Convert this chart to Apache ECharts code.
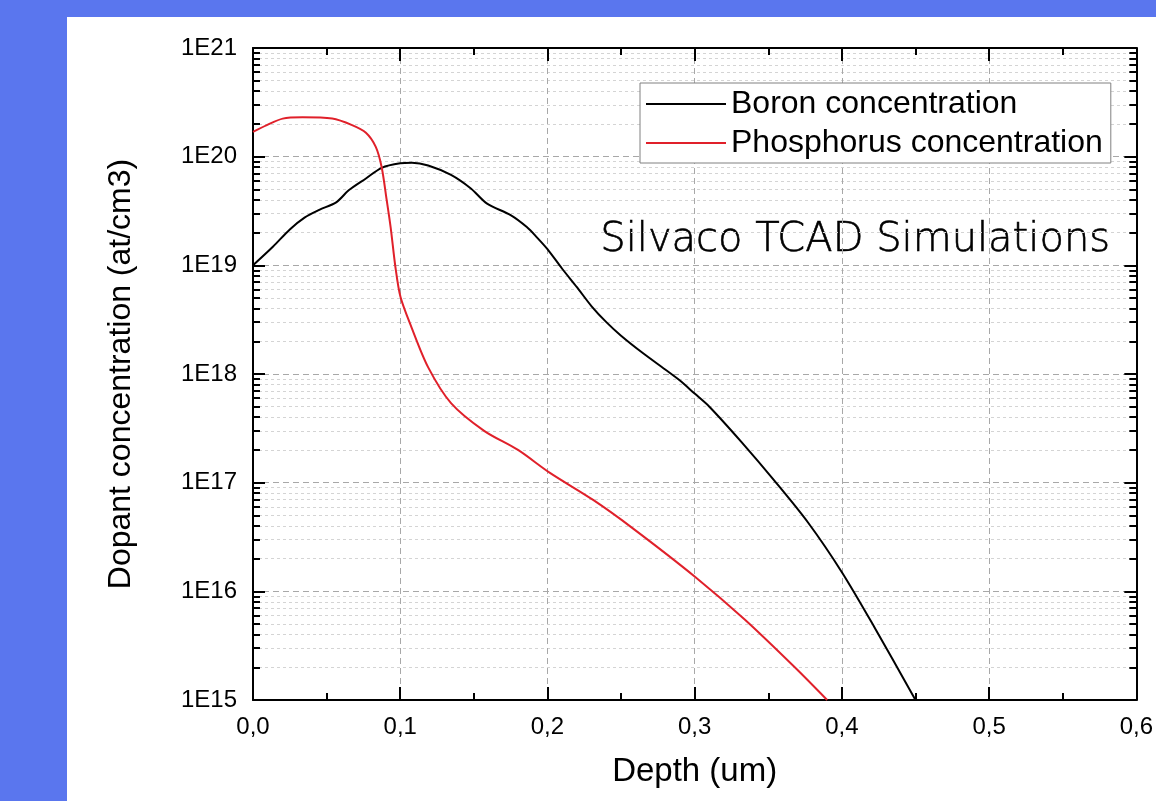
<!DOCTYPE html>
<html><head><meta charset="utf-8">
<script src="https://cdn.jsdelivr.net/npm/echarts@6/dist/echarts.min.js"></script>
<style>
html,body{margin:0;padding:0;background:#5a76ee;width:1156px;height:801px;overflow:hidden}
#c{position:absolute;left:67px;top:17px;width:1089px;height:784px;background:#fff}
</style></head><body><div id="c"></div>
<script>
const xTickLabels = ['0,0','0,1','0,2','0,3','0,4','0,5','0,6'];
const yTickLabels = ['1E15','1E16','1E17','1E18','1E19','1E20','1E21'];

const boronDepth = [0,0.0135,0.025,0.035,0.045,0.0565,0.065,0.0767,0.0874,0.1,0.108,0.119,0.1345,0.148,0.159,0.175,0.186,0.193,0.2,0.21,0.22,0.23,0.24,0.25,0.265,0.28,0.29,0.3,0.31,0.332,0.354,0.377,0.4,0.422,0.45];
const boronConc = [1.0e19,1.48e19,2.14e19,2.75e19,3.24e19,3.8e19,4.9e19,6.3e19,7.9e19,8.7e19,8.8e19,8.3e19,6.8e19,5.1e19,3.7e19,2.9e19,2.25e19,1.8e19,1.41e19,9.3e18,6.3e18,4.2e18,3.0e18,2.25e18,1.55e18,1.1e18,8.7e17,6.6e17,5.0e17,2.35e17,1.05e17,4.3e16,1.5e16,4.7e15,1.0e15];

const phosDepth = [0,0.0094,0.0202,0.0336,0.0538,0.0673,0.0767,0.0834,0.0874,0.0908,0.0935,0.0968,0.1002,0.1076,0.119,0.1345,0.157,0.18,0.2017,0.2313,0.258,0.3006,0.334,0.368,0.39];
const phosConc = [1.69e20,1.95e20,2.24e20,2.3e20,2.24e20,1.95e20,1.66e20,1.23e20,8.0e19,4.0e19,2.24e19,9.5e18,5.1e18,2.7e18,1.15e18,5.4e17,3.0e17,2.0e17,1.23e17,6.9e16,3.8e16,1.35e16,5.5e15,2.0e15,1.0e15];

const seriesNames = ['Boron concentration','Phosphorus concentration'];
const annotation = 'Silvaco TCAD Simulations';

const zip = (a,b) => a.map((v,i)=>[v,b[i]]);
const font = 'Arial, "Liberation Sans", sans-serif';
const majorGrid = {show:true, lineStyle:{color:'#a8a8a8', type:[6,4], width:1}};
const minorGrid = {show:true, lineStyle:{color:'#d4d4d4', type:[3,3], width:1}};

const chart = echarts.init(document.getElementById('c'));
chart.setOption({
  animation:false,
  backgroundColor:'#fff',
  grid:{left:186, right:12, top:31, bottom:101},
  legend:{
    orient:'vertical', left:573, top:66,
    data:seriesNames,
    icon:'rect',
    itemWidth:80, itemHeight:2, itemGap:7,
    padding:[5,8,4,6],
    borderColor:'#808080', borderWidth:1, backgroundColor:'#fff',
    textStyle:{fontFamily:font, fontSize:32, color:'#000', lineHeight:32},
    selectedMode:false
  },
  graphic:[{
    type:'text', left:533, top:203, silent:true,
    style:{text:annotation, font:'200 40px "DejaVu Sans", sans-serif', fill:'#000', stroke:'#000', lineWidth:0.6}
  }],
  xAxis:[{
    type:'value', min:0, max:0.6, interval:0.1, position:'bottom',
    name:'Depth (um)', nameLocation:'middle', nameGap:55, nameMoveOverlap:false,
    nameTextStyle:{fontFamily:font, fontSize:33, color:'#000'},
    axisLine:{show:true, onZero:false, lineStyle:{color:'#000', width:2}},
    axisTick:{show:true, inside:true, length:13, lineStyle:{color:'#000', width:2}},
    minorTick:{show:true, splitNumber:2, length:7, lineStyle:{color:'#000', width:2}},
    axisLabel:{margin:15, fontFamily:font, fontSize:24, color:'#000',
      formatter:(v)=>xTickLabels[Math.round(v*10)]},
    splitLine:majorGrid
  },{
    type:'value', min:0, max:0.6, interval:0.1, position:'top',
    axisLine:{show:true, onZero:false, lineStyle:{color:'#000', width:2}},
    axisTick:{show:true, inside:true, length:13, lineStyle:{color:'#000', width:2}},
    minorTick:{show:true, splitNumber:2, length:7, lineStyle:{color:'#000', width:2}},
    axisLabel:{show:false}, splitLine:{show:false}
  }],
  yAxis:[{
    type:'log', logBase:10, min:1e15, max:1e21, interval:1, position:'left',
    name:'Dopant concentration (at/cm3)', nameLocation:'middle', nameGap:116, nameMoveOverlap:false,
    nameTextStyle:{fontFamily:font, fontSize:32, color:'#000'},
    axisLine:{show:true, onZero:false, lineStyle:{color:'#000', width:2}},
    axisTick:{show:true, inside:true, length:12, lineStyle:{color:'#000', width:2}},
    minorTick:{show:true, splitNumber:9, length:7, lineStyle:{color:'#000', width:2}},
    axisLabel:{margin:16, fontFamily:font, fontSize:24, color:'#000',
      formatter:(v)=>yTickLabels[Math.round(Math.log10(v))-15]},
    splitLine:majorGrid,
    minorSplitLine:minorGrid
  },{
    type:'log', logBase:10, min:1e15, max:1e21, interval:1, position:'right',
    axisLine:{show:true, onZero:false, lineStyle:{color:'#000', width:2}},
    axisTick:{show:true, inside:true, length:12, lineStyle:{color:'#000', width:2}},
    minorTick:{show:true, splitNumber:9, length:7, lineStyle:{color:'#000', width:2}},
    axisLabel:{show:false}, splitLine:{show:false}
  }],
  series:[{
    name:seriesNames[0], type:'line', data:zip(boronDepth,boronConc),
    symbol:'none', smooth:0.3,
    lineStyle:{color:'#000', width:2}, itemStyle:{color:'#000'}, z:3
  },{
    name:seriesNames[1], type:'line', data:zip(phosDepth,phosConc),
    symbol:'none', smooth:0.3,
    lineStyle:{color:'#e0202a', width:2}, itemStyle:{color:'#e0202a'}, z:3
  }]
});
</script></body></html>
